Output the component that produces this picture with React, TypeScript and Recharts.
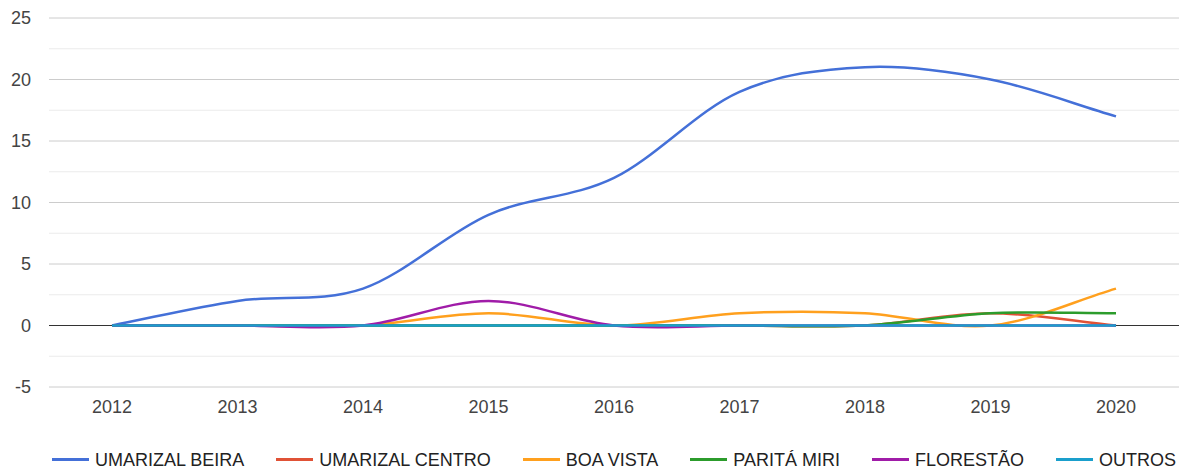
import { CartesianGrid, Legend, Line, LineChart, ReferenceLine, XAxis, YAxis } from "recharts";

const years = ["2012", "2013", "2014", "2015", "2016", "2017", "2018", "2019", "2020"];
const umarizalBeira = [0, 2, 3, 9, 12, 19, 21, 20, 17];
const umarizalCentro = [0, 0, 0, 0, 0, 0, 0, 1, 0];
const boaVista = [0, 0, 0, 1, 0, 1, 1, 0, 3];
const paritaMiri = [0, 0, 0, 0, 0, 0, 0, 1, 1];
const florestao = [0, 0, 0, 2, 0, 0, 0, 0, 0];
const outros = [0, 0, 0, 0, 0, 0, 0, 0, 0];

const yTicks = [-5, 0, 5, 10, 15, 20, 25];
const yMinor = [-2.5, 2.5, 7.5, 12.5, 17.5, 22.5];

const series = [
  { key: "beira", name: "UMARIZAL BEIRA", color: "#4470d8", values: umarizalBeira },
  { key: "centro", name: "UMARIZAL CENTRO", color: "#e05236", values: umarizalCentro },
  { key: "boaVista", name: "BOA VISTA", color: "#ffa01e", values: boaVista },
  { key: "parita", name: "PARITÁ MIRI", color: "#2c9c2c", values: paritaMiri },
  { key: "florestao", name: "FLORESTÃO", color: "#a01ca8", values: florestao },
  { key: "outros", name: "OUTROS", color: "#1a9fcc", values: outros },
];

const data = years.map((year, i) => {
  const row: Record<string, string | number> = { year };
  series.forEach((s) => {
    row[s.key] = s.values[i];
  });
  return row;
});

const FONT = "Arial, 'Liberation Sans', sans-serif";

// smooth curve through the points (catmull-rom style), like the original chart
function smoothCurve(context: any) {
  let pts: number[][] = [];
  return {
    areaStart() {},
    areaEnd() {},
    lineStart() {
      pts = [];
    },
    point(x: number, y: number) {
      pts.push([+x, +y]);
    },
    lineEnd() {
      const n = pts.length;
      if (!n) return;
      context.moveTo(pts[0][0], pts[0][1]);
      if (n === 1) return;
      const tan = pts.map((_, i) => {
        const a = pts[Math.max(i - 1, 0)];
        const b = pts[Math.min(i + 1, n - 1)];
        const d = i === 0 || i === n - 1 ? 1 : 2;
        return [(b[0] - a[0]) / d, (b[1] - a[1]) / d];
      });
      for (let i = 0; i < n - 1; i++) {
        const p = pts[i];
        const q = pts[i + 1];
        context.bezierCurveTo(
          p[0] + tan[i][0] / 3,
          p[1] + tan[i][1] / 3,
          q[0] - tan[i + 1][0] / 3,
          q[1] - tan[i + 1][1] / 3,
          q[0],
          q[1]
        );
      }
    },
  };
}

function LegendRow() {
  return (
    <div
      style={{
        height: 33,
        paddingTop: 12,
        boxSizing: "border-box",
        display: "flex",
        justifyContent: "center",
        gap: 32,
        fontFamily: FONT,
        fontSize: 18,
        lineHeight: "20px",
        color: "#222",
      }}
    >
      {series.map((s) => (
        <div key={s.key} style={{ display: "flex", alignItems: "center", whiteSpace: "nowrap" }}>
          <span style={{ display: "inline-block", width: 37, height: 3, background: s.color, marginRight: 6 }} />
          <span>{s.name}</span>
        </div>
      ))}
    </div>
  );
}

export default function App() {
  return (
    <div style={{ position: "absolute", left: 0, top: 0, background: "#fff" }}>
      <LineChart width={1184} height={470} data={data} margin={{ top: 18, right: 5, left: 0, bottom: 0 }}>
        <CartesianGrid vertical={false} stroke="#cccccc" />
        {yMinor.map((v) => (
          <ReferenceLine key={v} y={v} stroke="#ebebeb" />
        ))}
        <ReferenceLine y={0} stroke="#333333" />
        <XAxis
          dataKey="year"
          height={50}
          padding={{ left: 63, right: 63 }}
          axisLine={false}
          tickLine={false}
          tickMargin={7}
          tick={{ fill: "#444", fontSize: 18, fontFamily: FONT }}
        />
        <YAxis
          width={49}
          domain={[-5, 25]}
          ticks={yTicks}
          axisLine={false}
          tickLine={false}
          tickMargin={12}
          tick={{ fill: "#444", fontSize: 18, fontFamily: FONT }}
        />
        <Legend
          verticalAlign="bottom"
          height={33}
          content={() => <LegendRow />}
          wrapperStyle={{ left: 49, width: 1130, bottom: 0, height: 33 }}
        />
        {series.map((s) => (
          <Line
            key={s.key}
            dataKey={s.key}
            name={s.name}
            type={smoothCurve as any}
            stroke={s.color}
            strokeWidth={2.5}
            dot={false}
            activeDot={false}
            isAnimationActive={false}
          />
        ))}
      </LineChart>
    </div>
  );
}
